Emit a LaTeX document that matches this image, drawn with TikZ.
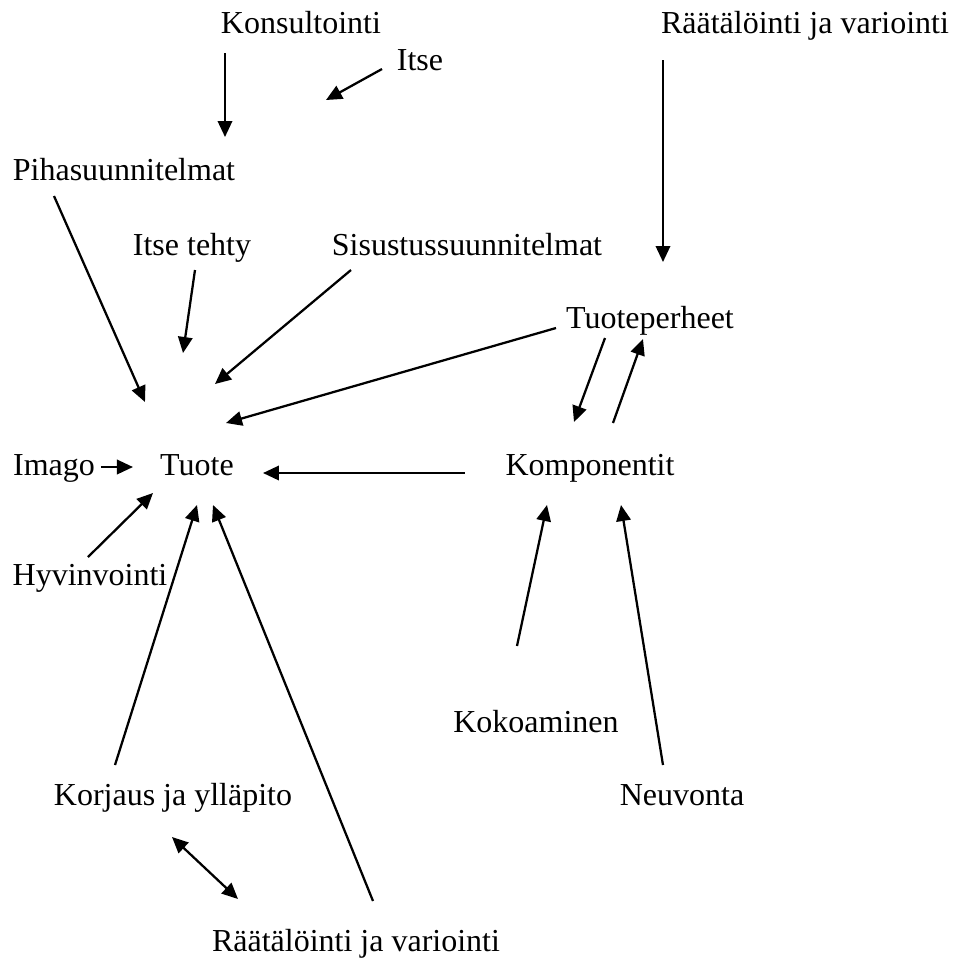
\documentclass[tikz,border=0pt]{standalone}
\usepackage{fontspec}
\setmainfont{Liberation Serif}
\usepackage{xcolor}
\usetikzlibrary{arrows.meta}
\definecolor{ink}{HTML}{000000}
\definecolor{bg}{HTML}{FFFFFF}
\tikzset{
  lab/.style={text=ink, font=\fontsize{12}{14}\selectfont, anchor=base, inner sep=0pt},
  arr/.style={draw=ink, line width=0.85pt, -{Triangle[length=6pt, width=5.4pt]}},
  darr/.style={draw=ink, line width=0.85pt, {Triangle[length=6pt, width=5.4pt]}-{Triangle[length=6pt, width=5.4pt]}},
}
\begin{document}
\begin{tikzpicture}[x=0.375pt, y=-0.375pt]
  \fill[bg] (0,0) rectangle (957,960);
  \useasboundingbox (0,0) rectangle (957,960);
  % labels
  \node[lab] (konsult) at (301,33) {Konsultointi};
  \node[lab] (itse) at (420,70) {Itse};
  \node[lab] (raatop) at (805,33) {Räätälöinti ja variointi};
  \node[lab] (piha) at (124,180) {Pihasuunnitelmat};
  \node[lab] (itsetehty) at (192,255) {Itse tehty};
  \node[lab] (sisustus) at (467,255) {Sisustussuunnitelmat};
  \node[lab] (perheet) at (650,328) {Tuoteperheet};
  \node[lab] (imago) at (54,475) {Imago};
  \node[lab] (tuote) at (197,475) {Tuote};
  \node[lab] (komp) at (590,475) {Komponentit};
  \node[lab] (hyvin) at (90,585) {Hyvinvointi};
  \node[lab] (koko) at (536,732) {Kokoaminen};
  \node[lab] (korjaus) at (173,805) {Korjaus ja ylläpito};
  \node[lab] (neuvonta) at (682,805) {Neuvonta};
  \node[lab] (raabot) at (356,951) {Räätälöinti ja variointi};
  % arrow ends
  \coordinate (k1) at (225,53);   \coordinate (k2) at (225,137);
  \coordinate (i1) at (382,69);   \coordinate (i2) at (326,100);
  \coordinate (r1) at (663,60);   \coordinate (r2) at (663,262);
  \coordinate (p1) at (54,196);   \coordinate (p2) at (145,402);
  \coordinate (t1) at (195,270);  \coordinate (t2) at (183,353);
  \coordinate (s1) at (351,270);  \coordinate (s2) at (215,384);
  \coordinate (f1) at (556,328);  \coordinate (f2) at (226,423);
  \coordinate (fk1) at (605,338); \coordinate (fk2) at (574,422);
  \coordinate (kf1) at (613,423); \coordinate (kf2) at (643,339);
  \coordinate (c1) at (465,473);  \coordinate (c2) at (263,473);
  \coordinate (m1) at (101,467);  \coordinate (m2) at (133,467);
  \coordinate (h1) at (88,557);   \coordinate (h2) at (153,493);
  \coordinate (j1) at (115,765);  \coordinate (j2) at (197,505);
  \coordinate (b1) at (373,901);  \coordinate (b2) at (213,505);
  \coordinate (d1) at (172,837);  \coordinate (d2) at (238,899);
  \coordinate (o1) at (517,646);  \coordinate (o2) at (547,505);
  \coordinate (n1) at (663,765);  \coordinate (n2) at (621,505);
  % arrows
  \draw[arr] (k1) -- (k2);
  \draw[arr] (i1) -- (i2);
  \draw[arr] (r1) -- (r2);
  \draw[arr] (p1) -- (p2);
  \draw[arr] (t1) -- (t2);
  \draw[arr] (s1) -- (s2);
  \draw[arr] (f1) -- (f2);
  \draw[arr] (fk1) -- (fk2);
  \draw[arr] (kf1) -- (kf2);
  \draw[arr] (c1) -- (c2);
  \draw[arr] (m1) -- (m2);
  \draw[arr] (h1) -- (h2);
  \draw[arr] (j1) -- (j2);
  \draw[arr] (b1) -- (b2);
  \draw[darr] (d1) -- (d2);
  \draw[arr] (o1) -- (o2);
  \draw[arr] (n1) -- (n2);
\end{tikzpicture}
\end{document}
